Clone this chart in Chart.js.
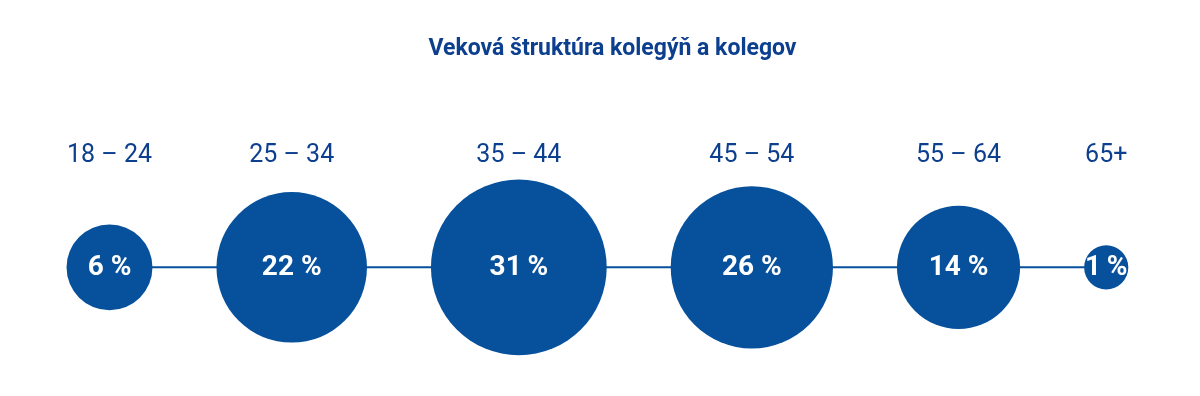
<!DOCTYPE html>
<html>
<head>
<meta charset="utf-8">
<script src="https://cdn.jsdelivr.net/npm/chart.js@4"></script>
<style>
  html, body { margin: 0; padding: 0; background: #fff; }
  #wrap { width: 1200px; height: 396px; position: relative; }
</style>
</head>
<body>
<div id="wrap"><canvas id="chartCanvas"></canvas></div>
<script>
// data
const title = 'Veková štruktúra kolegýň a kolegov';
const categories = ['18 – 24', '25 – 34', '35 – 44', '45 – 54', '55 – 64', '65+'];
const shares = [6, 22, 31, 26, 14, 1];
const shareLabels = ['6 %', '22 %', '31\u2009%', '26 %', '14 %', '1\u2009%'];

const BLUE = '#06509c';
const TEXT_BLUE = '#0d3f8f';

// bubble size grows with the square root of the share
function radiusFor(v) {
    return 7.7 + 14.4 * Math.sqrt(v);
}

// bubbles are packed left to right with an even gap between them
const GAP = 64;
const centers = [];
shares.forEach((v, i) => {
    if (i === 0) {
        centers.push(109.5);
    } else {
        centers.push(centers[i - 1] + radiusFor(shares[i - 1]) + GAP + radiusFor(v));
    }
});

// the bubble chart keeps its largest radius free on every side of the plot area
const maxR = Math.max(...shares.map(radiusFor));

const bubblePoints = shares.map((v, i) => ({ x: centers[i], y: 0, r: radiusFor(v) }));
const linePoints = shares.map((v, i) => ({ x: centers[i], y: 0 }));

const bubbleText = {
    id: 'bubbleText',
    afterDatasetsDraw(chart) {
        const meta = chart.getDatasetMeta(1);
        const ctx = chart.ctx;
        ctx.save();
        ctx.fillStyle = '#ffffff';
        ctx.font = '700 28px Roboto';
        ctx.textAlign = 'center';
        ctx.textBaseline = 'middle';
        meta.data.forEach((el, i) => {
            ctx.fillText(shareLabels[i], el.x, el.y + 1);
        });
        ctx.restore();
    }
};

const ctx = document.getElementById('chartCanvas').getContext('2d');

const chart = new Chart(ctx, {
    type: 'bubble',
    data: {
        datasets: [
            {
                type: 'line',
                data: linePoints,
                borderColor: BLUE,
                borderWidth: 2,
                pointRadius: 0,
                order: 2
            },
            {
                type: 'bubble',
                data: bubblePoints,
                backgroundColor: BLUE,
                borderWidth: 0,
                hoverRadius: 0,
                clip: false,
                order: 1
            }
        ]
    },
    options: {
        responsive: true,
        maintainAspectRatio: false,
        animation: false,
        devicePixelRatio: 1,
        // left padding only nudges the title; the plot keeps its own bubble margin
        layout: { padding: { left: 25, right: 0, top: 0, bottom: 0 } },
        scales: {
            x: {
                type: 'linear',
                position: 'top',
                min: maxR,
                max: 1200 - maxR,
                afterBuildTicks: (scale) => {
                    scale.ticks = centers.map(c => ({ value: c }));
                },
                grid: { display: false, drawTicks: false },
                border: { display: false },
                ticks: {
                    autoSkip: false,
                    maxRotation: 0,
                    padding: 56,
                    color: TEXT_BLUE,
                    font: { family: 'Roboto', size: 25, weight: 400 },
                    callback: (value, index) => categories[index]
                }
            },
            y: {
                display: false,
                min: -1,
                max: 1
            }
        },
        plugins: {
            legend: { display: false },
            tooltip: { enabled: false },
            title: {
                display: true,
                text: title,
                color: TEXT_BLUE,
                font: { family: 'Roboto', size: 23, weight: 'bold' },
                padding: { top: 35, bottom: 22 }
            }
        }
    },
    plugins: [bubbleText]
});
</script>
</body>
</html>
